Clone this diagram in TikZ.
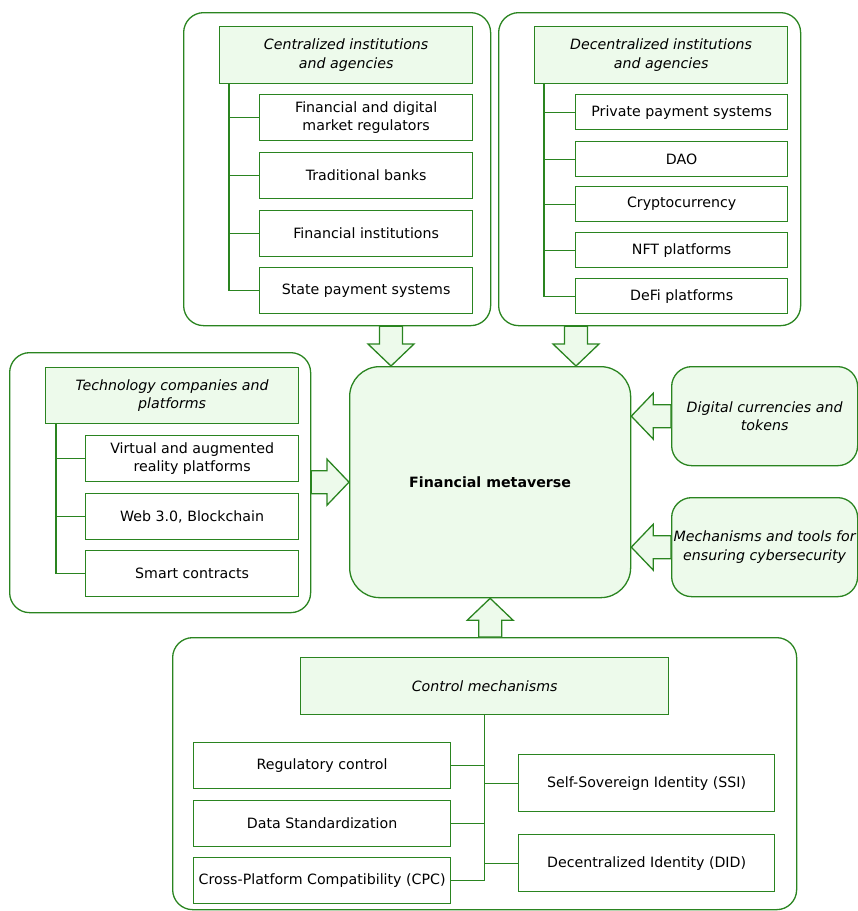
\documentclass[tikz,border=0pt]{standalone}
\usepackage{fontspec}
\setmainfont{DejaVu Sans}
\usetikzlibrary{calc}
\definecolor{leaf}{RGB}{42,132,32}
\definecolor{mint}{RGB}{237,250,235}
\newcommand{\lblfont}{\fontsize{14.2}{18.5}\selectfont}

\tikzset{
 sz/.style 2 args={minimum width=#1pt, minimum height=#2pt},
 grp/.style={draw=leaf, line width=1.3pt, rounded corners=20pt, anchor=north west, inner sep=0},
 hd/.style={draw=leaf, fill=mint, line width=1.3pt, anchor=north west, font=\lblfont\itshape, align=center, inner sep=0},
 itm/.style={draw=leaf, line width=1.3pt, anchor=north west, align=center, inner sep=0},
 link/.style={leaf, line width=1.3pt},
 fat/.style={draw=leaf, fill=mint, line width=1.3pt, line join=miter}
}

% block arrow: name, start, tip
\newcommand{\fatarrow}[3]{%
 \coordinate (#1h) at ($(#3)!22pt!(#2)$);
 \draw[fat] ($(#2)!11.5pt!90:(#3)$) -- ($(#1h)!11.5pt!90:(#3)$) -- ($(#1h)!23pt!90:(#3)$) -- (#3)
  -- ($(#1h)!23pt!-90:(#3)$) -- ($(#1h)!11.5pt!-90:(#3)$) -- ($(#2)!11.5pt!-90:(#3)$) -- cycle;
}

\begin{document}
\begin{tikzpicture}[x=1pt, y=-1pt, font=\lblfont]
\useasboundingbox (0,0) rectangle (858,911);

% centralized
\node[grp, sz={307}{313}] (boxC) at (183,12) {};
\node[hd, sz={253}{57}] (hdC) at (219,26) {Centralized institutions\\and agencies};
\foreach \y/\t [count=\i] in {94/{Financial and digital\\market regulators}, 152/Traditional banks, 210/Financial institutions, 267/State payment systems} {
 \node[itm, sz={213}{46}] (c\i) at (259,\y) {\t};
 \draw[link] ($(hdC.south west)+(10,0)$) |- (c\i.west);
}

% decentralized
\node[grp, sz={302}{313}] (boxD) at (498,12) {};
\node[hd, sz={253}{57}] (hdD) at (534,26) {Decentralized institutions\\and agencies};
\foreach \y/\t [count=\i] in {94/Private payment systems, 141/DAO, 186/Cryptocurrency, 232/NFT platforms, 278/DeFi platforms} {
 \node[itm, sz={212}{35}] (d\i) at (575,\y) {\t};
 \draw[link] ($(hdD.south west)+(10,0)$) |- (d\i.west);
}

% technology
\node[grp, sz={301}{260}] (boxT) at (9,352) {};
\node[hd, sz={253}{56}] (hdT) at (45,367) {Technology companies and\\platforms};
\foreach \y/\t [count=\i] in {435/{Virtual and augmented\\reality platforms}, 493/{Web 3.0, Blockchain}, 550/Smart contracts} {
 \node[itm, sz={213}{46}] (t\i) at (85,\y) {\t};
 \draw[link] ($(hdT.south west)+(11,0)$) |- (t\i.west);
}

% center and right
\node[grp, fill=mint, rounded corners=30pt, sz={281}{231}, font=\lblfont\bfseries] (fin) at (349,366) {Financial metaverse};
\node[grp, fill=mint, sz={186}{99}, font=\lblfont\itshape, align=center] (dig) at (671,366) {Digital currencies and\\tokens};
\node[grp, fill=mint, sz={186}{99}, font=\lblfont\itshape, align=center] (sec) at (671,497) {Mechanisms and tools for\\ensuring cybersecurity};

% control mechanisms
\node[grp, sz={624}{272}] (boxM) at (172,637) {};
\node[hd, sz={368}{57}] (hdM) at (300,657) {Control mechanisms};
\foreach \y/\t [count=\i] in {742/Regulatory control, 800/Data Standardization, 857/Cross-Platform Compatibility (CPC)} {
 \node[itm, sz={257}{46}] (m\i) at (193,\y) {\t};
 \draw[link] (hdM.south) |- (m\i.east);
}
\foreach \y/\t [count=\i] in {754/Self-Sovereign Identity (SSI), 834/Decentralized Identity (DID)} {
 \node[itm, sz={256}{57}] (s\i) at (518,\y) {\t};
 \draw[link] (hdM.south) |- (s\i.west);
}

% block arrows
\coordinate (tipC) at ($(fin.north west)+(42,0)$);
\coordinate (tipD) at ($(fin.north west)+(227,0)$);
\fatarrow{aC}{tipC |- boxC.south}{tipC}
\fatarrow{aD}{tipD |- boxD.south}{tipD}
\fatarrow{aT}{boxT.east |- fin.west}{fin.west}
\fatarrow{aG}{dig.west}{fin.east |- dig.west}
\fatarrow{aS}{sec.west}{fin.east |- sec.west}
\fatarrow{aM}{fin.south |- boxM.north}{fin.south}
\end{tikzpicture}
\end{document}
